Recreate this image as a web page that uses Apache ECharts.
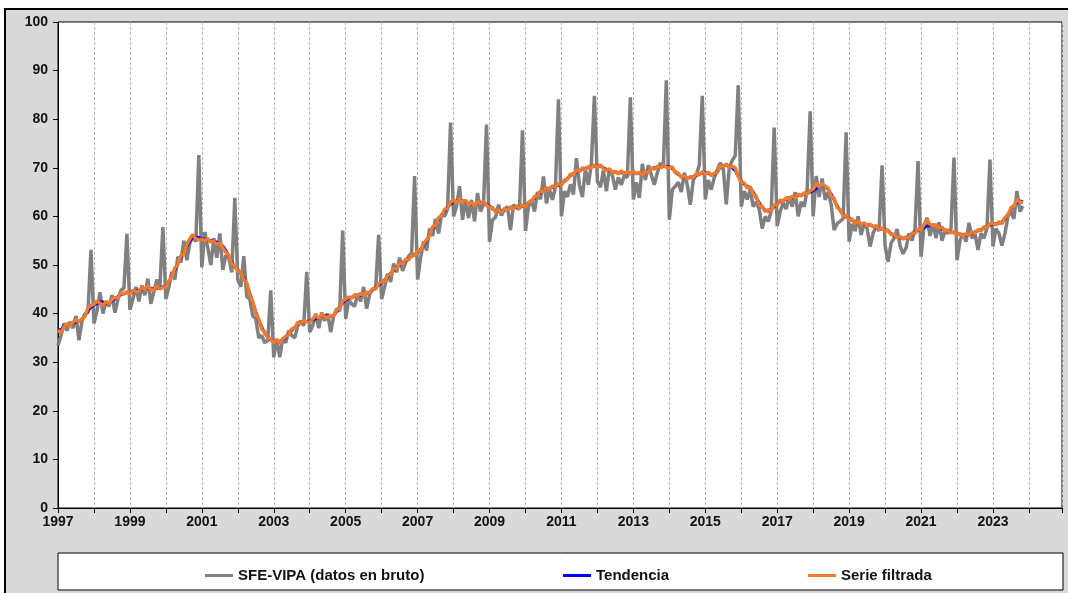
<!DOCTYPE html>
<html>
<head>
<meta charset="utf-8">
<script src="https://cdn.jsdelivr.net/npm/echarts@6/dist/echarts.min.js"></script>
<style>
html, body { margin: 0; padding: 0; background: #fff; }
#chart { width: 1068px; height: 593px; }
</style>
</head>
<body>
<div id="chart"></div>
<script>
// monthly data, January 1997 onwards (one row per year)
var startYear = 1997;

var raw = [
  33.5, 35.5, 38.0, 36.5, 38.3, 37.0, 39.5, 34.5, 38.5, 40.0, 40.2, 53.1,
  38.0, 40.5, 44.4, 40.0, 42.5, 41.5, 43.8, 40.2, 43.0, 44.8, 45.2, 56.4,
  40.8, 43.0, 45.5, 42.5, 45.8, 43.8, 47.2, 42.0, 44.5, 47.0, 45.5, 57.8,
  43.0, 45.5, 48.6, 47.0, 51.7, 50.5, 55.0, 51.0, 54.5, 55.8, 54.8, 72.6,
  49.5, 56.8, 53.5, 50.0, 55.5, 51.5, 56.5, 49.0, 52.0, 51.5, 48.5, 63.8,
  47.0, 45.5, 51.8, 43.5, 43.0, 39.5, 39.0, 35.0, 35.5, 34.0, 34.5, 44.8,
  31.0, 34.8, 31.0, 35.0, 34.0, 36.5, 35.5, 35.0, 37.5, 38.5, 37.5, 48.6,
  36.2, 37.5, 40.0, 37.0, 40.2, 38.5, 40.0, 36.2, 39.5, 41.0, 40.5, 57.1,
  38.9, 42.8, 42.0, 41.5, 44.1, 42.5, 45.5, 41.0, 44.0, 45.0, 45.2, 56.2,
  43.0, 45.5, 48.2, 46.5, 50.3, 48.5, 51.5, 48.8, 50.5, 51.8, 52.5, 68.3,
  47.0, 51.5, 54.8, 53.0, 57.5, 56.0, 59.5, 56.5, 60.4, 60.0, 61.5, 79.3,
  60.0, 62.1, 66.2, 59.3, 63.4, 59.7, 63.4, 59.0, 64.8, 61.0, 62.5, 78.9,
  54.8, 59.3, 59.8, 62.4, 60.2, 61.5, 62.0, 57.2, 62.4, 61.8, 61.5, 77.7,
  57.0, 62.0, 63.4, 61.0, 65.0, 63.5, 68.2, 62.7, 65.5, 63.4, 66.0, 84.1,
  60.0, 65.2, 64.0, 66.6, 64.5, 72.0, 66.5, 64.0, 69.7, 66.5, 71.0, 84.8,
  67.2, 66.0, 69.5, 65.2, 69.8, 68.5, 65.5, 68.0, 66.5, 68.5, 68.0, 84.5,
  63.5, 67.0, 63.8, 70.8, 67.5, 70.5, 68.5, 66.5, 69.0, 71.0, 70.0, 88.0,
  59.3, 65.5, 66.2, 67.0, 65.0, 69.0, 66.5, 62.4, 67.5, 68.5, 70.5, 84.8,
  63.5, 67.5, 65.5, 68.0, 69.5, 71.0, 70.0, 62.5, 70.0, 71.5, 72.5, 87.0,
  62.0, 65.2, 63.5, 65.5, 62.0, 63.0, 61.5, 57.5, 60.0, 59.0, 61.0, 78.3,
  58.0, 61.0, 62.8, 61.5, 64.1, 62.0, 65.0, 60.0, 63.0, 62.0, 65.5, 81.6,
  60.0, 68.3, 64.0, 67.8, 63.4, 65.0, 62.5, 57.2, 58.5, 59.0, 59.5, 77.3,
  54.8, 58.5, 57.0, 60.0, 56.2, 58.5, 57.5, 53.8, 56.5, 58.0, 57.0, 70.5,
  54.0, 50.7, 54.5, 55.5, 57.4, 54.0, 52.3, 53.5, 56.5, 55.0, 57.5, 71.4,
  51.7, 58.0, 59.7, 56.0, 58.5, 55.5, 58.8, 55.0, 57.0, 56.5, 57.5, 72.1,
  51.0, 55.0, 56.5, 54.8, 58.7, 55.5, 56.5, 53.1, 56.5, 55.5, 57.5, 71.7,
  53.8, 57.5, 56.5, 54.0, 56.5, 60.0, 61.0, 59.5, 65.2, 61.0, 62.1
];

var trend = [
  36.8, 36.5, 37.5, 37.8, 37.6, 38.0, 38.3, 38.4, 38.8, 39.6, 40.6, 41.3,
  41.7, 42.1, 42.5, 42.4, 42.0, 42.2, 42.6, 43.0, 43.5, 43.9, 44.2, 44.3,
  44.3, 44.5, 44.6, 44.8, 45.0, 45.1, 45.3, 45.2, 45.0, 45.2, 45.4, 45.5,
  45.6, 46.5, 47.8, 49.0, 50.3, 51.5, 52.6, 53.8, 54.9, 55.7, 55.8, 55.6,
  55.4, 55.3, 55.1, 55.0, 54.9, 54.7, 54.4, 53.9, 53.0, 51.8, 50.6, 49.6,
  49.0, 48.3, 47.4, 46.0, 44.2, 42.3, 40.4, 38.7, 37.2, 36.0, 35.2, 34.6,
  34.3, 34.2, 34.3, 34.6, 35.1, 35.8, 36.5, 37.2, 37.8, 38.1, 38.3, 38.4,
  38.5, 38.7, 38.9, 39.2, 39.5, 39.6, 39.5, 39.4, 39.7, 40.4, 41.3, 42.2,
  42.8, 43.1, 43.4, 43.6, 43.8, 43.8, 43.9, 44.1, 44.4, 44.9, 45.4, 45.9,
  46.3, 46.9, 47.6, 48.3, 48.9, 49.5, 50.0, 50.5, 50.9, 51.3, 51.8, 52.2,
  52.6, 53.2, 54.0, 55.0, 56.2, 57.4, 58.5, 59.4, 60.3, 61.1, 61.9, 62.5,
  63.0, 63.2, 63.3, 63.2, 63.0, 62.7, 62.5, 62.5, 62.7, 62.9, 62.8, 62.5,
  62.1, 61.6, 61.2, 61.0, 61.1, 61.3, 61.6, 61.7, 61.8, 61.9, 62.0, 62.1,
  62.3, 62.7, 63.2, 63.8, 64.4, 64.9, 65.3, 65.6, 65.8, 66.0, 66.2, 66.4,
  66.7, 67.2, 67.8, 68.4, 68.8, 69.1, 69.4, 69.7, 69.9, 70.1, 70.2, 70.3,
  70.4, 70.3, 70.0, 69.7, 69.4, 69.2, 69.1, 69.0, 69.0, 69.0, 69.0, 69.0,
  69.0, 68.9, 68.8, 68.8, 69.0, 69.4, 69.8, 70.0, 70.1, 70.2, 70.3, 70.3,
  70.2, 69.8, 69.2, 68.6, 68.2, 68.0, 67.9, 68.0, 68.2, 68.5, 68.7, 68.9,
  69.0, 68.8, 68.6, 68.7, 69.3, 70.0, 70.4, 70.5, 70.3, 70.0, 69.5, 68.3,
  67.3, 66.6, 66.2, 65.8, 65.0, 63.9, 62.8, 61.9, 61.3, 61.1, 61.4, 62.0,
  62.6, 63.0, 63.3, 63.5, 63.6, 63.8, 64.1, 64.3, 64.4, 64.6, 64.8, 65.0,
  65.3, 65.7, 66.2, 66.4, 66.2, 65.6, 64.6, 63.4, 62.2, 61.2, 60.4, 59.9,
  59.6, 59.2, 58.9, 58.7, 58.5, 58.4, 58.3, 58.2, 58.0, 57.8, 57.5, 57.4,
  57.3, 57.0, 56.5, 56.0, 55.8, 55.6, 55.5, 55.6, 55.9, 56.3, 56.8, 57.1,
  57.4, 57.7, 58.0, 58.1, 58.1, 58.0, 57.8, 57.5, 57.2, 57.0, 56.8, 56.6,
  56.4, 56.2, 56.1, 56.1, 56.3, 56.5, 56.8, 57.0, 57.3, 57.6, 57.9, 58.2,
  58.4, 58.5, 58.6, 58.9, 59.5, 60.4, 61.4, 62.3, 62.9, 63.2, 63.0
];

var filtered = [
  36.6, 36.0, 37.3, 37.9, 37.5, 38.2, 38.7, 38.3, 38.9, 39.4, 41.2, 41.7,
  41.9, 42.6, 42.2, 41.6, 42.5, 42.0, 42.9, 43.3, 43.2, 44.3, 44.0, 44.5,
  44.0, 44.8, 44.5, 44.6, 45.4, 44.9, 45.8, 44.9, 44.8, 45.6, 45.1, 45.4,
  45.4, 46.7, 47.6, 49.4, 50.1, 51.9, 52.3, 54.2, 55.4, 56.3, 55.4, 55.2,
  55.3, 55.0, 55.4, 54.7, 54.9, 54.2, 54.6, 53.5, 52.6, 52.0, 50.2, 49.8,
  48.8, 48.5, 47.0, 46.3, 43.8, 42.5, 40.0, 38.9, 36.8, 36.2, 35.0, 34.8,
  34.0, 34.6, 33.9, 34.8, 35.3, 35.6, 36.9, 37.0, 38.2, 37.9, 38.6, 38.3,
  38.2, 38.9, 39.7, 39.0, 39.8, 39.4, 39.2, 39.6, 39.5, 40.7, 41.0, 42.6,
  43.0, 43.4, 43.1, 43.9, 43.6, 44.2, 43.7, 44.4, 44.2, 45.2, 45.0, 46.2,
  46.5, 46.6, 47.9, 48.0, 49.3, 49.2, 50.4, 50.2, 51.2, 51.0, 52.1, 51.9,
  52.9, 53.0, 54.3, 55.2, 56.0, 57.8, 58.3, 59.7, 60.1, 61.5, 61.6, 62.9,
  63.4, 62.8, 63.6, 62.9, 63.3, 62.4, 62.8, 62.2, 63.0, 62.6, 63.1, 62.3,
  61.8, 61.9, 60.9, 61.3, 60.8, 61.6, 61.4, 62.0, 61.5, 62.2, 61.7, 62.4,
  62.0, 62.9, 63.0, 64.1, 64.2, 65.3, 65.0, 65.9, 65.6, 66.3, 66.0, 66.8,
  66.4, 67.5, 67.6, 68.7, 68.5, 69.5, 69.2, 70.0, 69.6, 70.3, 70.0, 70.6,
  70.1, 70.6, 69.8, 69.4, 69.8, 68.9, 69.3, 68.7, 69.4, 68.8, 69.2, 68.7,
  69.3, 68.7, 69.1, 68.5, 69.2, 69.1, 70.0, 69.7, 70.3, 70.0, 70.5, 70.1,
  70.0, 70.2, 69.0, 68.9, 68.0, 68.3, 67.7, 68.2, 68.0, 68.8, 68.5, 69.2,
  68.7, 69.1, 68.4, 68.9, 69.0, 70.3, 70.2, 70.8, 70.1, 70.3, 70.0, 68.2,
  67.0, 66.9, 65.8, 66.1, 64.6, 64.2, 62.3, 62.1, 61.0, 61.4, 61.1, 62.4,
  62.3, 63.4, 63.0, 63.9, 63.4, 64.2, 63.8, 64.6, 64.2, 64.9, 64.6, 65.3,
  65.6, 66.8, 66.0, 66.7, 66.2, 65.8, 64.2, 63.7, 61.8, 61.4, 60.1, 60.2,
  59.2, 59.5, 58.6, 59.0, 58.2, 58.7, 58.1, 58.4, 57.8, 58.1, 57.3, 57.6,
  57.0, 57.2, 56.2, 56.3, 55.6, 55.9, 55.3, 55.8, 55.6, 56.6, 56.5, 57.4,
  57.2, 58.3, 59.3, 58.4, 58.0, 58.3, 57.6, 57.8, 57.0, 57.2, 56.6, 56.9,
  56.2, 56.5, 55.9, 56.4, 56.1, 56.8, 56.5, 57.3, 57.0, 57.9, 57.6, 58.5,
  58.6, 58.2, 58.9, 58.5, 59.8, 60.2, 61.8, 62.1, 63.5, 63.0, 62.8
];

var seriesNames = ['SFE-VIPA (datos en bruto)', 'Tendencia', 'Serie filtrada'];

function toPoints(values) {
  return values.map(function (v, i) {
    return [startYear + i / 12, v];
  });
}

var chart = echarts.init(document.getElementById('chart'));
var axisFont = {
  fontFamily: '"Liberation Sans", Arial, sans-serif',
  fontWeight: 'bold',
  fontSize: 14,
  color: '#111'
};
var legendFont = {
  fontFamily: '"Liberation Sans", Arial, sans-serif',
  fontWeight: 'bold',
  fontSize: 15,
  color: '#111'
};

chart.setOption({
  animation: false,
  backgroundColor: '#fff',
  graphic: [
    {
      type: 'rect', z: -10, silent: true,
      shape: { x: 5, y: 9, width: 1080, height: 600 },
      style: { fill: '#d9d9d9', stroke: '#000', lineWidth: 2 }
    },
    {
      type: 'rect', z: -5, silent: true,
      shape: { x: 58, y: 553, width: 1005, height: 37 },
      style: { fill: '#fff', stroke: '#000', lineWidth: 1 }
    }
  ],
  grid: {
    left: 58, right: 6, top: 22, bottom: 85,
    show: true, backgroundColor: '#fff', borderColor: '#000', borderWidth: 1
  },
  legend: [0, 1, 2].map(function (k) {
    return {
      left: [200, 558, 803][k],
      top: 563,
      data: [seriesNames[k]],
      icon: 'rect',
      itemWidth: 28,
      itemHeight: 3,
      selectedMode: false,
      textStyle: legendFont
    };
  }),
  xAxis: {
    type: 'value',
    min: 1997,
    max: 2024.92,
    interval: 1,
    axisLine: { lineStyle: { color: '#000', width: 1 } },
    axisTick: { length: 5, lineStyle: { color: '#000' } },
    axisLabel: Object.assign({
      margin: 7,
      formatter: function (v) {
        var y = Math.round(v);
        if (Math.abs(v - y) > 1e-6 || y % 2 !== 1) return '';
        return String(y);
      }
    }, axisFont),
    splitLine: {
      show: true,
      lineStyle: { color: '#b4b4b4', type: [3, 2], width: 1 }
    }
  },
  yAxis: {
    type: 'value',
    min: 0,
    max: 100,
    interval: 10,
    axisLine: { show: true, lineStyle: { color: '#000', width: 1 } },
    axisTick: { show: true, length: 5, lineStyle: { color: '#000' } },
    axisLabel: Object.assign({ margin: 10 }, axisFont),
    splitLine: { show: false }
  },
  series: [
    {
      name: seriesNames[0], type: 'line', data: toPoints(raw),
      symbol: 'none', color: '#808080',
      lineStyle: { color: '#808080', width: 3.5 }
    },
    {
      name: seriesNames[1], type: 'line', data: toPoints(trend),
      symbol: 'none', color: '#0000ff',
      lineStyle: { color: '#0000ff', width: 3 }
    },
    {
      name: seriesNames[2], type: 'line', data: toPoints(filtered),
      symbol: 'none', color: '#f07b2b',
      lineStyle: { color: '#f07b2b', width: 3.5 }
    }
  ]
});
</script>
</body>
</html>
